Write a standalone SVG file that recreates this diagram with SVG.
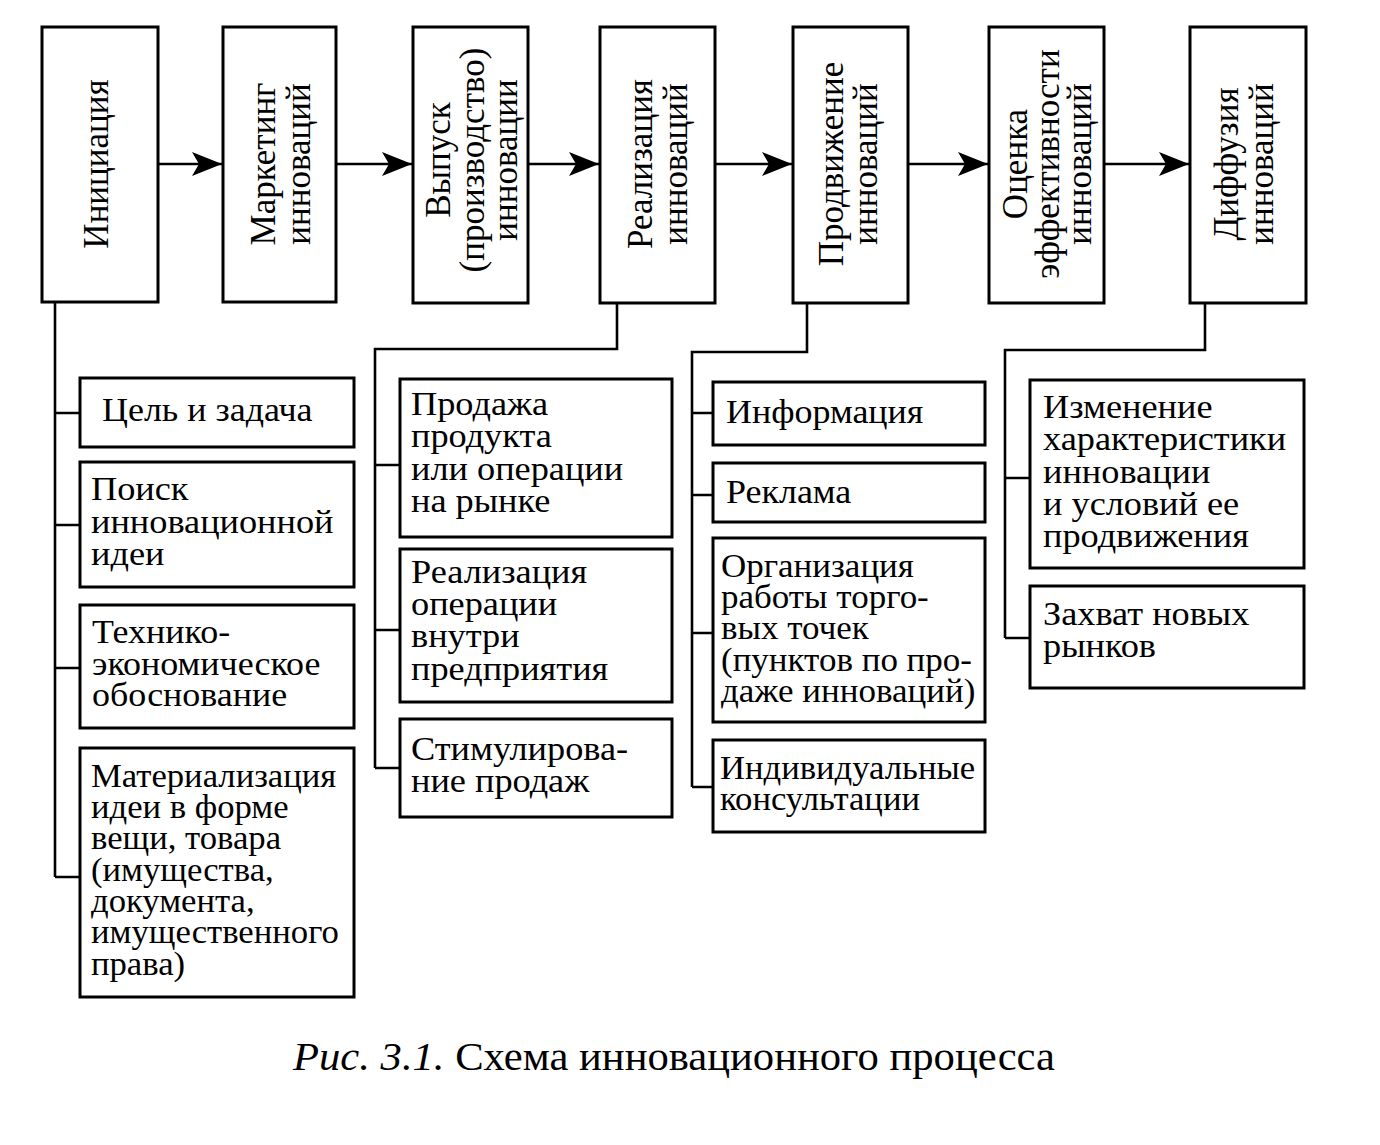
<svg xmlns="http://www.w3.org/2000/svg" width="1380" height="1145" viewBox="0 0 1380 1145">
<style>
.box{fill:#fff;stroke:#000;stroke-width:3}
.ln{fill:none;stroke:#000;stroke-width:2.6}
.t{font-family:"Liberation Serif","Times New Roman",serif;font-size:33px;fill:#000}
.v{font-family:"Liberation Serif","Times New Roman",serif;font-size:35px;fill:#000;text-anchor:middle}
.cap{font-family:"Liberation Serif","Times New Roman",serif;font-size:40px;fill:#000}
</style>
<defs>
<marker id="ah" markerUnits="userSpaceOnUse" markerWidth="32" markerHeight="26" viewBox="-31 -13 32 26" refX="0" refY="0" orient="auto">
<path d="M0,0 L-30,-12 L-23,0 L-30,12 Z" fill="#000"/>
</marker>
</defs>
<rect width="1380" height="1145" fill="#fff"/>

<g id="connectors">
<line class="ln" x1="158" y1="164" x2="222" y2="164" marker-end="url(#ah)"/>
<line class="ln" x1="336" y1="164" x2="412" y2="164" marker-end="url(#ah)"/>
<line class="ln" x1="528" y1="164" x2="599" y2="164" marker-end="url(#ah)"/>
<line class="ln" x1="715" y1="164" x2="792" y2="164" marker-end="url(#ah)"/>
<line class="ln" x1="908" y1="164" x2="988" y2="164" marker-end="url(#ah)"/>
<line class="ln" x1="1104" y1="164" x2="1189" y2="164" marker-end="url(#ah)"/>

<path class="ln" d="M55,302 V877"/>
<path class="ln" d="M55,413 H80 M55,525 H80 M55,668 H80 M55,877 H80"/>

<path class="ln" d="M617,303 V349 H375 V768"/>
<path class="ln" d="M375,465 H400 M375,630 H400 M375,768 H400"/>

<path class="ln" d="M807,303 V352 H692 V787"/>
<path class="ln" d="M692,413 H713 M692,495 H713 M692,633 H713 M692,787 H713"/>

<path class="ln" d="M1205,303 V350 H1005 V638"/>
<path class="ln" d="M1005,478 H1030 M1005,638 H1030"/>
</g>

<g id="n1"><rect class="box" x="42" y="27" width="116" height="275"/>
<text class="v" transform="translate(108,164) rotate(-90)">Инициация</text></g>
<g id="n2"><rect class="box" x="223" y="27" width="113" height="275"/>
<text class="v" transform="translate(275,164) rotate(-90)">Маркетинг</text>
<text class="v" transform="translate(310,164) rotate(-90)">инноваций</text></g>
<g id="n3"><rect class="box" x="413" y="27" width="115" height="276"/>
<text class="v" transform="translate(450,160) rotate(-90)">Выпуск</text>
<text class="v" transform="translate(484,160) rotate(-90)">(производство)</text>
<text class="v" transform="translate(517,160) rotate(-90)">инновации</text></g>
<g id="n4"><rect class="box" x="600" y="27" width="115" height="276"/>
<text class="v" transform="translate(652,164) rotate(-90)">Реализация</text>
<text class="v" transform="translate(687,164) rotate(-90)">инноваций</text></g>
<g id="n5"><rect class="box" x="793" y="27" width="115" height="276"/>
<text class="v" transform="translate(843,164) rotate(-90)">Продвижение</text>
<text class="v" transform="translate(877,164) rotate(-90)">инноваций</text></g>
<g id="n6"><rect class="box" x="989" y="27" width="115" height="276"/>
<text class="v" transform="translate(1027,164) rotate(-90)">Оценка</text>
<text class="v" transform="translate(1059,164) rotate(-90)">эффективности</text>
<text class="v" transform="translate(1091,164) rotate(-90)">инноваций</text></g>
<g id="n7"><rect class="box" x="1190" y="27" width="116" height="276"/>
<text class="v" transform="translate(1238,164) rotate(-90)">Диффузия</text>
<text class="v" transform="translate(1273,164) rotate(-90)">инноваций</text></g>

<g id="s1"><rect class="box" x="80" y="378" width="274" height="69"/>
<g transform="translate(102,0) scale(1.09,1)"><text class="t" x="0" y="421">Цель и задача</text></g></g>
<g id="s2"><rect class="box" x="80" y="462" width="274" height="125"/>
<g transform="translate(91,0) scale(1.1,1)">
<text class="t" x="0" y="500">Поиск</text>
<text class="t" x="0" y="533">инновационной</text>
<text class="t" x="0" y="565">идеи</text></g></g>
<g id="s3"><rect class="box" x="80" y="605" width="274" height="123"/>
<g transform="translate(92,0) scale(1.09,1)">
<text class="t" x="0" y="643">Технико-</text>
<text class="t" x="0" y="675">экономическое</text>
<text class="t" x="0" y="706">обоснование</text></g></g>
<g id="s4"><rect class="box" x="80" y="748" width="274" height="249"/>
<g transform="translate(91,0) scale(1.05,1)">
<text class="t" x="0" y="787">Материализация</text>
<text class="t" x="0" y="818">идеи в форме</text>
<text class="t" x="0" y="849">вещи, товара</text>
<text class="t" x="0" y="881">(имущества,</text>
<text class="t" x="0" y="912">документа,</text>
<text class="t" x="0" y="943">имущественного</text>
<text class="t" x="0" y="975">права)</text></g></g>

<g id="s5"><rect class="box" x="400" y="379" width="272" height="158"/>
<g transform="translate(411,0) scale(1.1,1)">
<text class="t" x="0" y="415">Продажа</text>
<text class="t" x="0" y="447">продукта</text>
<text class="t" x="0" y="480">или операции</text>
<text class="t" x="0" y="512">на рынке</text></g></g>
<g id="s6"><rect class="box" x="400" y="549" width="272" height="153"/>
<g transform="translate(411,0) scale(1.1,1)">
<text class="t" x="0" y="583">Реализация</text>
<text class="t" x="0" y="615">операции</text>
<text class="t" x="0" y="647">внутри</text>
<text class="t" x="0" y="680">предприятия</text></g></g>
<g id="s7"><rect class="box" x="400" y="719" width="272" height="98"/>
<g transform="translate(411,0) scale(1.1,1)">
<text class="t" x="0" y="760">Стимулирова-</text>
<text class="t" x="0" y="792">ние продаж</text></g></g>

<g id="s8"><rect class="box" x="713" y="382" width="272" height="63"/>
<g transform="translate(726,0) scale(1.09,1)"><text class="t" x="0" y="423">Информация</text></g></g>
<g id="s9"><rect class="box" x="713" y="463" width="272" height="59"/>
<g transform="translate(726,0) scale(1.09,1)"><text class="t" x="0" y="503">Реклама</text></g></g>
<g id="s10"><rect class="box" x="713" y="538" width="272" height="184"/>
<g transform="translate(721,0) scale(1.06,1)">
<text class="t" x="0" y="577">Организация</text>
<text class="t" x="0" y="608">работы торго-</text>
<text class="t" x="0" y="639">вых точек</text>
<text class="t" x="0" y="671">(пунктов по про-</text>
<text class="t" x="0" y="702">даже инноваций)</text></g></g>
<g id="s11"><rect class="box" x="713" y="740" width="272" height="92"/>
<g transform="translate(720,0) scale(1.05,1)">
<text class="t" x="0" y="779">Индивидуальные</text>
<text class="t" x="0" y="810">консультации</text></g></g>

<g id="s12"><rect class="box" x="1030" y="380" width="274" height="188"/>
<g transform="translate(1043,0) scale(1.1,1)">
<text class="t" x="0" y="418">Изменение</text>
<text class="t" x="0" y="450">характеристики</text>
<text class="t" x="0" y="483">инновации</text>
<text class="t" x="0" y="515">и условий ее</text>
<text class="t" x="0" y="547">продвижения</text></g></g>
<g id="s13"><rect class="box" x="1030" y="586" width="274" height="102"/>
<g transform="translate(1043,0) scale(1.1,1)">
<text class="t" x="0" y="625">Захват новых</text>
<text class="t" x="0" y="657">рынков</text></g></g>

<text class="cap" x="293" y="1070" textLength="762" lengthAdjust="spacingAndGlyphs"><tspan font-style="italic">Рис. 3.1.</tspan> Схема инновационного процесса</text>
</svg>
